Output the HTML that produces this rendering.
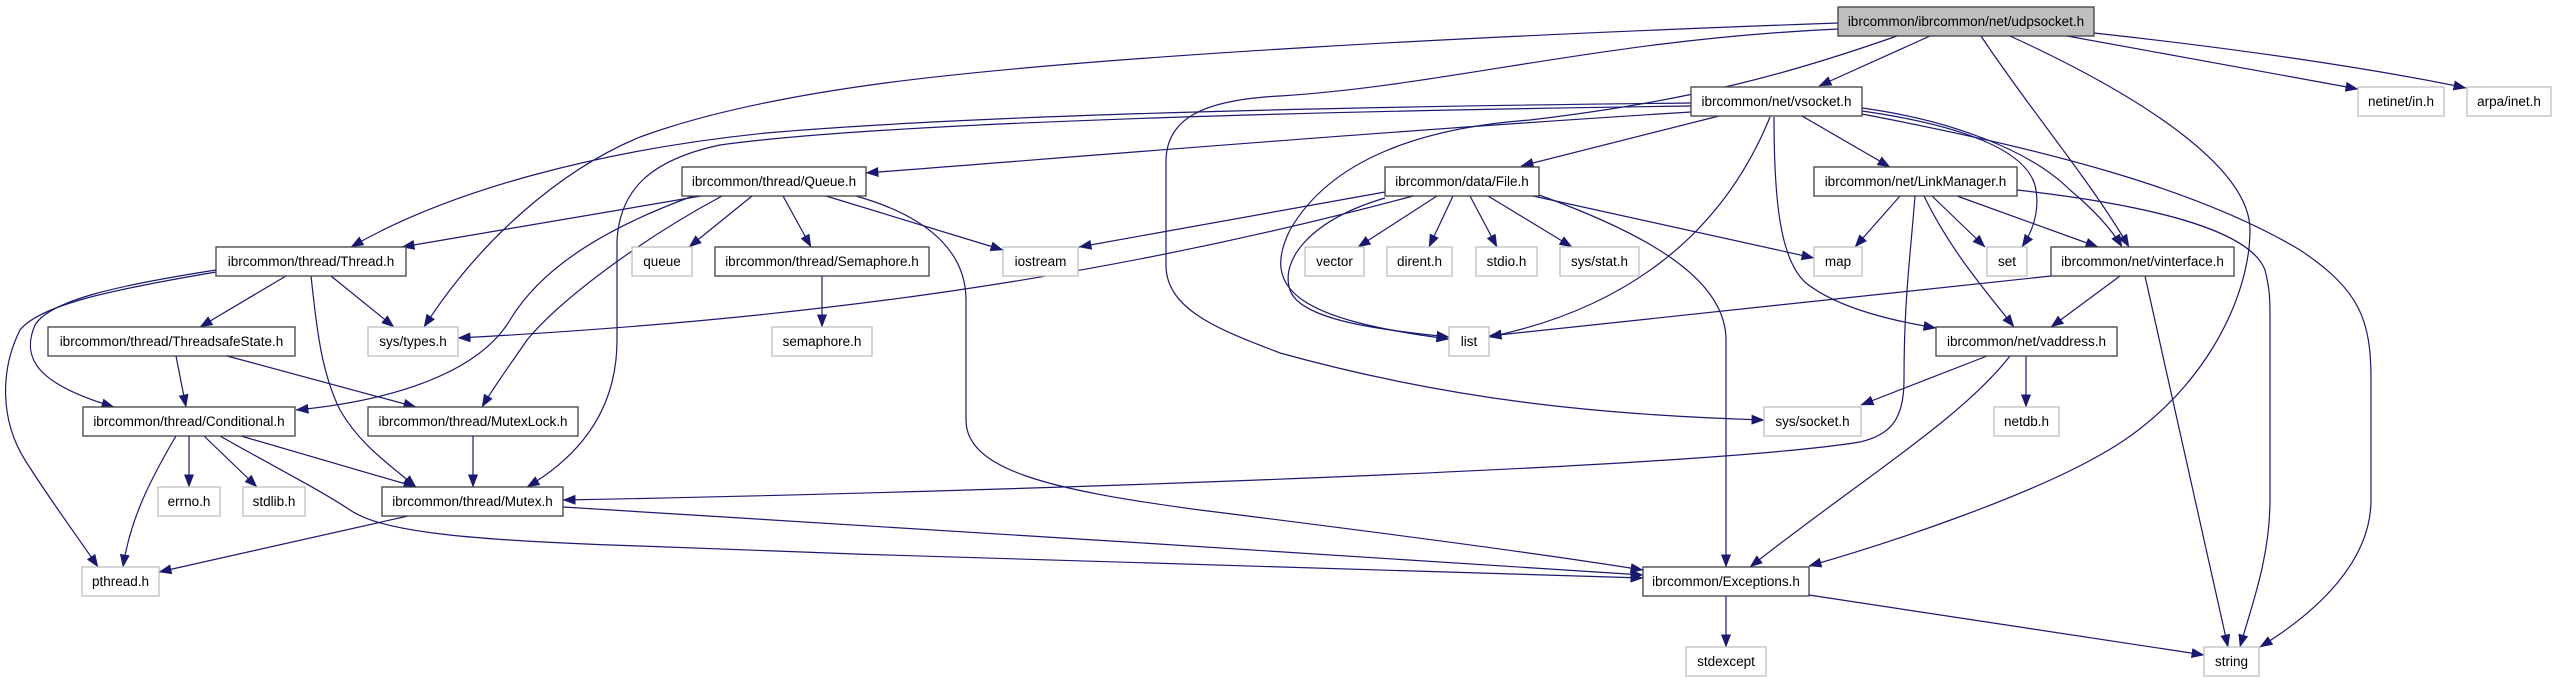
<!DOCTYPE html>
<html>
<head>
<meta charset="utf-8">
<style>
html,body{margin:0;padding:0;background:#fff;}
svg{display:block;}
text{font-family:"Liberation Sans",Arial,sans-serif;font-size:13.5px;fill:#000;}
.e{fill:none;stroke:#191970;stroke-width:1.2;}
.nb{fill:#fff;stroke:#404040;stroke-width:1.3;}
.ng{fill:#fff;stroke:#bfbfbf;stroke-width:1.3;}
.nr{fill:#bfbfbf;stroke:#404040;stroke-width:1.3;}
</style>
</head>
<body>
<svg width="2556" height="683" viewBox="0 0 2556 683" xmlns="http://www.w3.org/2000/svg">
<defs>
<marker id="a" markerWidth="13" markerHeight="10" refX="12.5" refY="5" orient="auto" markerUnits="userSpaceOnUse">
<path d="M0,0 L13,5 L0,10 z" fill="#191970"/>
</marker>
</defs>

<!-- edges -->
<g class="e" marker-end="url(#a)">
<!-- udpsocket -->
<path d="M1930,36 L1819,86"/>
<path d="M1838,23 C1500,35 1100,55 885,83 C780,97 700,115 640,137 C560,170 480,240 424,327"/>
<path d="M1838,29 C1600,40 1450,85 1280,96 C1200,100 1167,120 1166,160 L1166,265 C1166,310 1220,330 1280,353 C1450,400 1600,415 1764,420"/>
<path d="M1981,36 C2030,110 2090,180 2129,247"/>
<path d="M2010,36 C2150,100 2250,170 2250,230 C2250,300 2200,400 2100,455 C2030,495 1900,540 1809,566"/>
<path d="M2067,36 L2358,89"/>
<path d="M2094,33 C2250,50 2380,70 2466,88"/>
<path d="M1897,36 C1800,70 1700,100 1530,120 C1420,128 1330,160 1290,230 C1260,290 1300,320 1449,339"/>
<!-- vsocket -->
<path d="M1691,103 C1400,106 1000,113 766,133 C600,150 450,190 351,247"/>
<path d="M1691,106 C1400,110 900,120 720,145 C650,160 620,190 617,240 L617,340 C617,400 590,450 527,487"/>
<path d="M1691,112 C1400,130 1100,155 866,173"/>
<path d="M1719,116 L1521,166"/>
<path d="M1770,117 C1720,240 1620,310 1489,337"/>
<path d="M1802,116 L1890,167"/>
<path d="M1774,117 C1774,200 1780,260 1806,283 C1840,310 1900,322 1936,328"/>
<path d="M1862,108 C1950,120 2030,150 2070,190 C2100,215 2115,235 2122,247"/>
<path d="M1862,111 C1960,125 2030,150 2036,190 C2040,215 2030,235 2022,247"/>
<path d="M1862,114 C2050,150 2200,190 2300,250 C2360,290 2371,320 2371,380 L2371,500 C2371,560 2320,610 2260,647"/>
<!-- Queue -->
<path d="M701,196 L402,247"/>
<path d="M693,196 C600,230 540,270 510,320 C480,370 400,400 296,410"/>
<path d="M722,196 C640,240 560,300 527,340 C510,365 495,385 482,407"/>
<path d="M752,196 L689,247"/>
<path d="M783,196 L811,247"/>
<path d="M826,196 L1003,250"/>
<path d="M856,196 C940,220 966,260 966,300 L966,420 C966,470 1050,490 1200,510 C1400,535 1550,555 1643,570"/>
<!-- File -->
<path d="M1385,192 L1079,247"/>
<path d="M1413,196 C1100,280 800,320 458,338"/>
<path d="M1437,196 L1358,247"/>
<path d="M1453,196 L1429,247"/>
<path d="M1470,196 L1497,247"/>
<path d="M1488,196 L1572,247"/>
<path d="M1533,196 L1814,258"/>
<path d="M1385,198 C1310,220 1280,260 1290,290 C1300,320 1380,330 1449,337"/>
<path d="M1539,195 C1650,235 1726,280 1726,340 L1726,567"/>
<!-- LinkManager -->
<path d="M1900,196 L1855,247"/>
<path d="M1932,196 L1985,247"/>
<path d="M1957,196 L2098,247"/>
<path d="M1924,196 C1950,250 1985,290 2014,327"/>
<path d="M1915,196 C1910,260 1904,300 1904,380 C1904,420 1890,435 1860,442 C1700,468 1000,492 563,500"/>
<path d="M2017,190 C2150,205 2250,230 2265,270 C2270,290 2270,300 2270,320 L2270,500 C2270,560 2250,610 2240,647"/>
<!-- vinterface -->
<path d="M2120,276 L2051,327"/>
<path d="M2051,276 L1489,336"/>
<path d="M2145,276 L2228,647"/>
<!-- vaddress -->
<path d="M1987,356 L1861,405"/>
<path d="M2026,356 L2026,407"/>
<path d="M2010,356 C1960,420 1860,480 1750,567"/>
<!-- Thread -->
<path d="M286,276 L200,327"/>
<path d="M331,276 L394,327"/>
<path d="M311,276 C316,320 320,370 340,410 C360,445 390,465 416,487"/>
<path d="M216,270 C120,285 50,300 35,325 C20,360 40,385 114,407"/>
<path d="M216,272 C110,290 40,305 20,330 C0,370 0,420 25,460 C50,500 80,540 98,567"/>
<!-- ThreadsafeState -->
<path d="M176,356 L186,407"/>
<path d="M227,356 L416,407"/>
<!-- Conditional -->
<path d="M176,436 C150,480 130,520 123,567"/>
<path d="M189,436 L189,487"/>
<path d="M204,436 L257,487"/>
<path d="M241,436 L416,487"/>
<path d="M220,436 C280,470 320,490 350,510 C380,530 450,540 640,546 C1000,560 1400,572 1643,578"/>
<!-- MutexLock -->
<path d="M473,436 L473,487"/>
<!-- Mutex -->
<path d="M408,516 L159,572"/>
<path d="M563,507 C900,525 1300,555 1643,575"/>
<!-- Semaphore -->
<path d="M822,276 L822,327"/>
<!-- Exceptions -->
<path d="M1726,596 L1726,647"/>
<path d="M1809,595 L2204,655"/>
</g>

<!-- nodes -->
<g>
<rect class="nr" x="1838" y="7" width="256" height="29"/>
<text x="1966" y="26" text-anchor="middle">ibrcommon/ibrcommon/net/udpsocket.h</text>

<rect class="nb" x="1691" y="87" width="171" height="29"/>
<text x="1776.5" y="106" text-anchor="middle">ibrcommon/net/vsocket.h</text>
<rect class="ng" x="2358" y="87" width="86" height="29"/>
<text x="2401" y="106" text-anchor="middle">netinet/in.h</text>
<rect class="ng" x="2467" y="87" width="84" height="29"/>
<text x="2509" y="106" text-anchor="middle">arpa/inet.h</text>

<rect class="nb" x="682" y="167" width="184" height="29"/>
<text x="774" y="186" text-anchor="middle">ibrcommon/thread/Queue.h</text>
<rect class="nb" x="1385" y="167" width="154" height="29"/>
<text x="1462" y="186" text-anchor="middle">ibrcommon/data/File.h</text>
<rect class="nb" x="1814" y="167" width="203" height="29"/>
<text x="1915.5" y="186" text-anchor="middle">ibrcommon/net/LinkManager.h</text>

<rect class="nb" x="216" y="247" width="190" height="29"/>
<text x="311" y="266" text-anchor="middle">ibrcommon/thread/Thread.h</text>
<rect class="ng" x="632" y="247" width="60" height="29"/>
<text x="662" y="266" text-anchor="middle">queue</text>
<rect class="nb" x="715" y="247" width="214" height="29"/>
<text x="822" y="266" text-anchor="middle">ibrcommon/thread/Semaphore.h</text>
<rect class="ng" x="1003" y="247" width="75" height="29"/>
<text x="1040.5" y="266" text-anchor="middle">iostream</text>
<rect class="ng" x="1305" y="247" width="59" height="29"/>
<text x="1334.5" y="266" text-anchor="middle">vector</text>
<rect class="ng" x="1387" y="247" width="65" height="29"/>
<text x="1419.5" y="266" text-anchor="middle">dirent.h</text>
<rect class="ng" x="1476" y="247" width="61" height="29"/>
<text x="1506.5" y="266" text-anchor="middle">stdio.h</text>
<rect class="ng" x="1560" y="247" width="79" height="29"/>
<text x="1599.5" y="266" text-anchor="middle">sys/stat.h</text>
<rect class="ng" x="1814" y="247" width="48" height="29"/>
<text x="1838" y="266" text-anchor="middle">map</text>
<rect class="ng" x="1987" y="247" width="40" height="29"/>
<text x="2007" y="266" text-anchor="middle">set</text>
<rect class="nb" x="2051" y="247" width="183" height="29"/>
<text x="2142.5" y="266" text-anchor="middle">ibrcommon/net/vinterface.h</text>

<rect class="nb" x="48" y="327" width="247" height="29"/>
<text x="171.5" y="346" text-anchor="middle">ibrcommon/thread/ThreadsafeState.h</text>
<rect class="ng" x="368" y="327" width="90" height="29"/>
<text x="413" y="346" text-anchor="middle">sys/types.h</text>
<rect class="ng" x="772" y="327" width="100" height="29"/>
<text x="822" y="346" text-anchor="middle">semaphore.h</text>
<rect class="ng" x="1449" y="327" width="40" height="29"/>
<text x="1469" y="346" text-anchor="middle">list</text>
<rect class="nb" x="1936" y="327" width="181" height="29"/>
<text x="2026.5" y="346" text-anchor="middle">ibrcommon/net/vaddress.h</text>

<rect class="nb" x="83" y="407" width="212" height="29"/>
<text x="189" y="426" text-anchor="middle">ibrcommon/thread/Conditional.h</text>
<rect class="nb" x="368" y="407" width="210" height="29"/>
<text x="473" y="426" text-anchor="middle">ibrcommon/thread/MutexLock.h</text>
<rect class="ng" x="1764" y="407" width="97" height="29"/>
<text x="1812.5" y="426" text-anchor="middle">sys/socket.h</text>
<rect class="ng" x="1994" y="407" width="65" height="29"/>
<text x="2026.5" y="426" text-anchor="middle">netdb.h</text>

<rect class="ng" x="158" y="487" width="62" height="29"/>
<text x="189" y="506" text-anchor="middle">errno.h</text>
<rect class="ng" x="243" y="487" width="62" height="29"/>
<text x="274" y="506" text-anchor="middle">stdlib.h</text>
<rect class="nb" x="382" y="487" width="181" height="29"/>
<text x="472.5" y="506" text-anchor="middle">ibrcommon/thread/Mutex.h</text>

<rect class="ng" x="82" y="567" width="77" height="29"/>
<text x="120.5" y="586" text-anchor="middle">pthread.h</text>
<rect class="nb" x="1643" y="567" width="166" height="29"/>
<text x="1726" y="586" text-anchor="middle">ibrcommon/Exceptions.h</text>

<rect class="ng" x="1686" y="647" width="80" height="29"/>
<text x="1726" y="666" text-anchor="middle">stdexcept</text>
<rect class="ng" x="2204" y="647" width="55" height="29"/>
<text x="2231.5" y="666" text-anchor="middle">string</text>
</g>
</svg>
</body>
</html>
